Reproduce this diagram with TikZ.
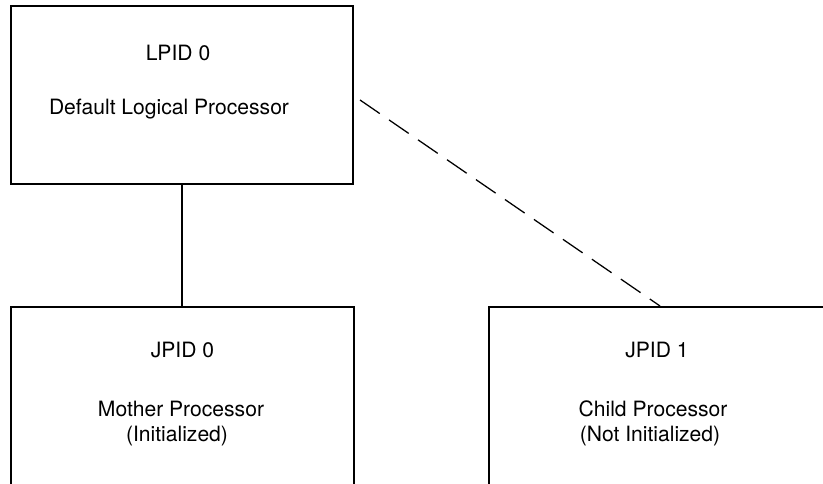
\documentclass[tikz,border=0pt]{standalone}
\usepackage{fontspec}
\setmainfont{TeX Gyre Heros}
\begin{document}
\begin{tikzpicture}[x=0.025cm,y=-0.025cm,font=\fontsize{15}{18}\selectfont,
  procbox/.style={draw,line width=1.4pt,minimum width=8.55cm,minimum height=4.45cm,inner sep=0pt},
  lbl/.style={anchor=base,inner sep=0pt}]
\clip (0,0) rectangle (823,484);
\node[procbox] (lp0) at (182,95) {};
\node[procbox] (jp0) at (182.5,396) {};
\node[procbox] (jp1) at (660,396) {};
\foreach \nm/\x/\y/\txt in {l0a/178/61/{LPID 0},l0b/169/115/{Default Logical Processor},
  j0a/182.5/358/{JPID 0},j0b/181/417/{Mother Processor},j0c/177/442/{(Initialized)},
  j1a/657/358/{JPID 1},j1b/653/417/{Child Processor},j1c/650/442/{(Not Initialized)}}{
 \node[lbl] (\nm) at (\x,\y) {\txt};
}
\draw[line width=1pt] (lp0.south) -- (lp0.south |- jp0.north);
\coordinate (d0) at ([shift={(6,5)}]lp0.east);
\draw[line width=0.9pt,dash pattern=on 17pt off 8pt] (d0) -- (jp1.north);
\end{tikzpicture}
\end{document}
